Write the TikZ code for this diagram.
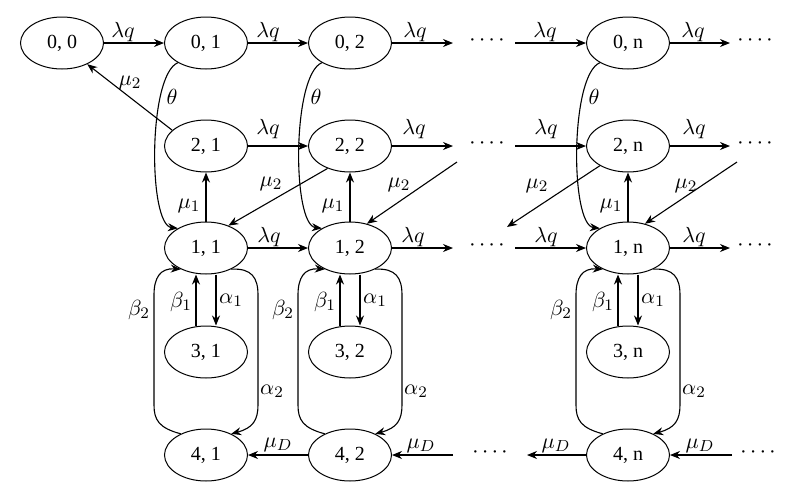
\documentclass[tikz,border=0pt]{standalone}
\usepackage{fontspec}
\setmainfont{Liberation Serif}
\usetikzlibrary{arrows.meta,shapes.geometric,calc}
\begin{document}
\begin{tikzpicture}[x=0.5pt,y=-0.5pt,
  st/.style={ellipse, draw, line width=0.5pt, minimum width=41.5pt, minimum height=26pt, inner sep=0pt, font=\fontsize{10}{12}\selectfont},
  arr/.style={-{Stealth[length=5pt,width=4pt]}, line width=0.55pt},
  lab/.style={inner sep=0pt, font=\fontsize{11}{13}\selectfont},
  dts/.style={inner sep=0pt, font=\fontsize{10}{12}\selectfont}]
\useasboundingbox (0,0) rectangle (800,494);

% states
\node[st] (s00) at (62,43) {0, 0};
\foreach \c/\x in {1/206,2/350,n/628}{
  \node[st] (s0\c) at (\x,43)  {0, \c};
  \node[st] (s2\c) at (\x,146) {2, \c};
  \node[st] (s1\c) at (\x,248) {1, \c};
  \node[st] (s3\c) at (\x,352) {3, \c};
  \node[st] (s4\c) at (\x,455) {4, \c};
}

% free ends
\coordinate (e0) at (453,43);  \coordinate (f0) at (515,43);  \coordinate (g0) at (730,43);
\coordinate (e2) at (453,146); \coordinate (f2) at (515,146); \coordinate (g2) at (730,146);
\coordinate (e1) at (453,248); \coordinate (f1) at (515,248); \coordinate (g1) at (730,248);
\coordinate (e4) at (453,455); \coordinate (f4) at (527,455); \coordinate (g4) at (732,455);
\coordinate (h2) at (457,162); \coordinate (k2) at (507,227); \coordinate (m2) at (737,162);

% dots
\node[dts] (d0) at (487,43) {·\kern1.5pt·\kern1.5pt·\kern1.5pt·};
\node[dts] (d0r) at (755,43) {·\kern1.5pt·\kern1.5pt·\kern1.5pt·};
\node[dts] (d2) at (487,146) {·\kern1.5pt·\kern1.5pt·\kern1.5pt·};
\node[dts] (d2r) at (755,146) {·\kern1.5pt·\kern1.5pt·\kern1.5pt·};
\node[dts] (d1) at (487,248) {·\kern1.5pt·\kern1.5pt·\kern1.5pt·};
\node[dts] (d1r) at (755,248) {·\kern1.5pt·\kern1.5pt·\kern1.5pt·};
\node[dts] (d4) at (490,455) {·\kern1.5pt·\kern1.5pt·\kern1.5pt·};
\node[dts] (d4r) at (758,455) {·\kern1.5pt·\kern1.5pt·\kern1.5pt·};

% horizontal arrows
\draw[arr] (s00) -- (s01);
\draw[arr] (s01) -- (s02);
\draw[arr] (s02) -- (e0);
\draw[arr] (f0) -- (s0n);
\draw[arr] (s0n) -- (g0);
\draw[arr] (s21) -- (s22);
\draw[arr] (s22) -- (e2);
\draw[arr] (f2) -- (s2n);
\draw[arr] (s2n) -- (g2);
\draw[arr] (s11) -- (s12);
\draw[arr] (s12) -- (e1);
\draw[arr] (f1) -- (s1n);
\draw[arr] (s1n) -- (g1);
\draw[arr] (s42) -- (s41);
\draw[arr] (e4) -- (s42);
\draw[arr] (s4n) -- (f4);
\draw[arr] (g4) -- (s4n);

% diagonal mu2 arrows
\draw[arr] (s21.155) -- (s00.320);
\draw[arr] (s22.225) -- (s11.45);
\draw[arr] (h2) -- (s12.55);
\draw[arr] (s2n.215) -- (k2);
\draw[arr] (m2) -- (s1n.55);

% per-column arrows and labels
\foreach \c/\x in {1/206,2/350,n/628}{
  \draw[arr] (s1\c) -- (s2\c);
  \draw[arr] ($(s1\c.south)+(10,0)$) -- ($(s3\c.north)+(10,0)$);
  \draw[arr] ($(s3\c.north)+(-10,0)$) -- ($(s1\c.south)+(-10,0)$);
  \draw[arr] (s0\c.215) .. controls ({\x-58},75) and ({\x-58},225) .. (s1\c.145);
  \draw[arr] (s4\c.140) .. controls ({\x-47},428) and ({\x-52},420) .. ({\x-52},405)
     -- ({\x-52},295) .. controls ({\x-52},278) and ({\x-46},268) .. (s1\c.220);
  \draw[arr] (s1\c.320) .. controls ({\x+46},268) and ({\x+52},278) .. ({\x+52},295)
     -- ({\x+52},405) .. controls ({\x+52},420) and ({\x+47},428) .. (s4\c.40);
  \node[lab] (mu1\c) at ({\x-17},206) {$\mu_1$};
  \node[lab] (th\c) at ({\x-34},97) {$\theta$};
  \node[lab] (b1\c) at ({\x-25},302) {$\beta_1$};
  \node[lab] (a1\c) at ({\x+25},300) {$\alpha_1$};
  \node[lab] (b2\c) at ({\x-67},310) {$\beta_2$};
  \node[lab] (a2\c) at ({\x+66},391) {$\alpha_2$};
}

% lambda q labels
\node[lab] (l01) at (123,32) {$\lambda q$};
\node[lab] (l02) at (268,32) {$\lambda q$};
\node[lab] (l03) at (415,32) {$\lambda q$};
\node[lab] (l04) at (545,32) {$\lambda q$};
\node[lab] (l05) at (693,32) {$\lambda q$};
\node[lab] (l21) at (268,129) {$\lambda q$};
\node[lab] (l22) at (414,129) {$\lambda q$};
\node[lab] (l23) at (546,129) {$\lambda q$};
\node[lab] (l24) at (694,129) {$\lambda q$};
\node[lab] (l11) at (269,237) {$\lambda q$};
\node[lab] (l12) at (413,237) {$\lambda q$};
\node[lab] (l13) at (546,237) {$\lambda q$};
\node[lab] (l14) at (694,237) {$\lambda q$};
% mu_D labels
\node[lab] (md1) at (278,445) {$\mu_D$};
\node[lab] (md2) at (421,446) {$\mu_D$};
\node[lab] (md3) at (556,446) {$\mu_D$};
\node[lab] (md4) at (700,446) {$\mu_D$};
% mu_2 labels
\node[lab] (m21) at (130,83) {$\mu_2$};
\node[lab] (m22) at (271,184) {$\mu_2$};
\node[lab] (m23) at (399,185) {$\mu_2$};
\node[lab] (m24) at (537,186) {$\mu_2$};
\node[lab] (m25) at (686,186) {$\mu_2$};
\end{tikzpicture}
\end{document}
